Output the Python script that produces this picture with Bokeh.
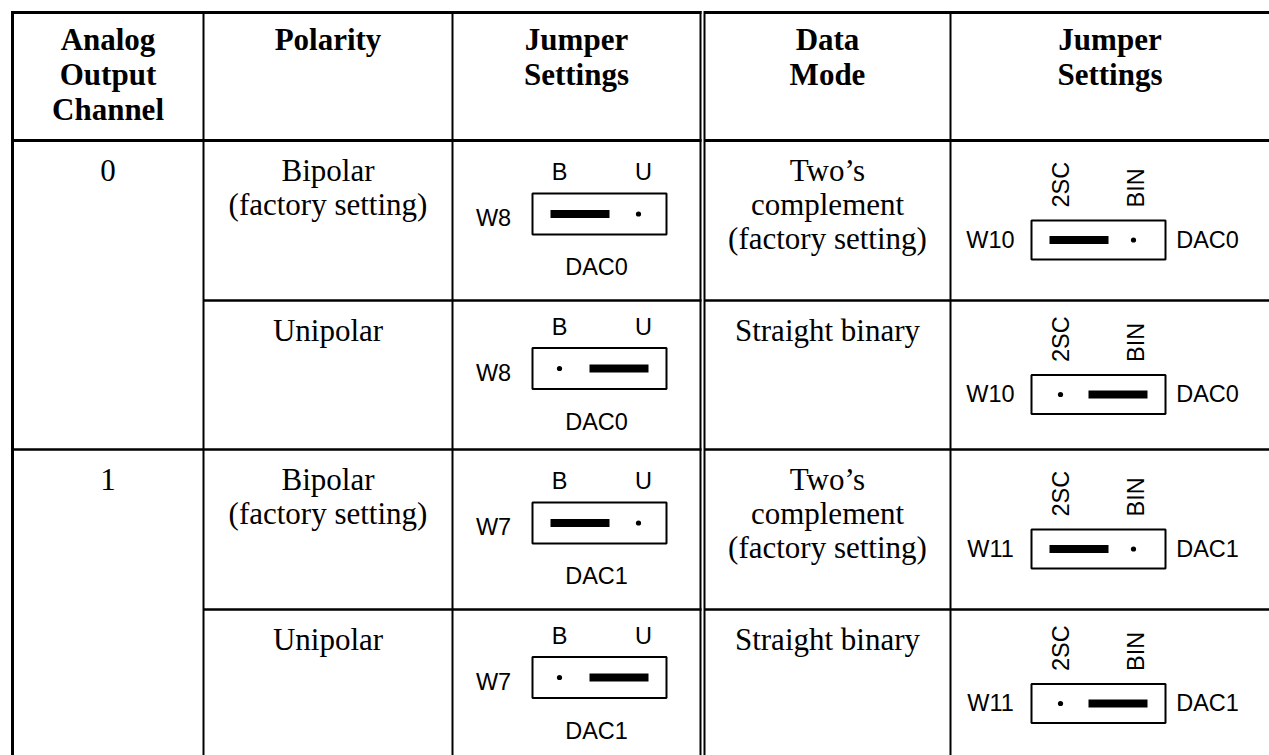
import math
from bokeh.plotting import figure
from bokeh.models import Range1d
from bokeh.core.properties import value
from bokeh.embed import file_html
from bokeh.resources import INLINE

# ---------------- data ----------------
headers = [["Analog", "Output", "Channel"], ["Polarity"], ["Jumper", "Settings"],
           ["Data", "Mode"], ["Jumper", "Settings"]]
channels = ["0", "1"]
polarity = [["Bipolar", "(factory setting)"], ["Unipolar"],
            ["Bipolar", "(factory setting)"], ["Unipolar"]]
pol_jumper = ["W8", "W8", "W7", "W7"]
pol_labels = ["B", "U"]
pol_setting = ["B", "U", "B", "U"]
dac_names = ["DAC0", "DAC0", "DAC1", "DAC1"]
data_mode = [["Two\u2019s", "complement", "(factory setting)"], ["Straight binary"],
             ["Two\u2019s", "complement", "(factory setting)"], ["Straight binary"]]
mode_jumper = ["W10", "W10", "W11", "W11"]
mode_labels = ["2SC", "BIN"]
mode_setting = ["2SC", "BIN", "2SC", "BIN"]

# ---------------- layout ----------------
col_x = [12, 203, 452, 700, 704, 950, 1290]
row_y = [12, 140, 300, 449, 609, 758]
SERIF = value("Liberation Serif")
SANS = value("Liberation Sans")
FS_SERIF_PX = 31
FS_SANS_PX = 23.5
LH = 34
SH_SERIF = 0.36 * FS_SERIF_PX   # baseline correction
SH_SANS = 0.36 * FS_SANS_PX

W, H = 1269, 755
p = figure(width=W, height=H, x_range=Range1d(0, W), y_range=Range1d(H, 0),
           output_backend="svg", toolbar_location=None, min_border=0,
           outline_line_color=None, background_fill_color="white",
           border_fill_color="white")
p.axis.visible = False
p.xgrid.visible = False
p.ygrid.visible = False

# ---------------- grid lines ----------------
x_end = 1290
for yy, lw in [(row_y[0], 3), (row_y[1], 3)]:
    p.segment(x0=[col_x[0], col_x[4]], x1=[col_x[3] + 1, x_end], y0=[yy, yy], y1=[yy, yy],
              line_color="black", line_width=lw)
for yy, x_start in [(row_y[2], col_x[1]), (row_y[3], col_x[0]), (row_y[4], col_x[1])]:
    p.segment(x0=[x_start, col_x[4]], x1=[col_x[3] + 1, x_end], y0=[yy, yy], y1=[yy, yy],
              line_color="black", line_width=2.5)
for i, xx in enumerate(col_x[:-1]):
    lw = 3 if i == 0 else 2
    p.segment(x0=[xx], x1=[xx], y0=[row_y[0] - 1.5], y1=[row_y[-1]],
              line_color="black", line_width=lw)

def txt(x, y, s, font, size, style="normal", align="center", baseline="alphabetic", angle=0.0):
    p.text(x=[x], y=[y], text=[s], text_font=font, text_font_size=size,
           text_font_style=style, text_align=align, text_baseline=baseline,
           text_color="black", angle=angle)

def serif(x, y, s, style="normal"):
    txt(x, y - SH_SERIF, s, SERIF, f"{FS_SERIF_PX}px", style)

def sans(x, y, s):
    txt(x, y - SH_SANS, s, SANS, f"{FS_SANS_PX}px")

cell_l = [col_x[0], col_x[1], col_x[2], col_x[4], col_x[5]]
cell_r = [col_x[1], col_x[2], col_x[3], col_x[5], 1269]
centers = [(a + b) / 2 for a, b in zip(cell_l, cell_r)]

# ---------------- header ----------------
for ci, lines in enumerate(headers):
    for li, s in enumerate(lines):
        serif(centers[ci], row_y[0] + 38 + li * 35, s, "bold")

# ---------------- body ----------------
for r in range(4):
    top, bot = row_y[r + 1], row_y[r + 2]
    c = (top + bot) / 2
    base = top + 41
    if r % 2 == 0:
        serif(centers[0], base, channels[r // 2])
    for li, s in enumerate(polarity[r]):
        serif(centers[1], base + li * LH, s)
    for li, s in enumerate(data_mode[r]):
        serif(centers[3], base + li * LH, s)

    # ---- polarity jumper (horizontal labels) ----
    L = cell_l[2] + 80
    bw = 134
    bt, bb = c - 27, c + 14
    mid = c - 6.5
    p.quad(left=[L], right=[L + bw], top=[bt], bottom=[bb], fill_color="white",
           line_color="black", line_width=2)
    lab_x = [L + 27, L + 111]
    for lx, s in zip(lab_x, pol_labels):
        sans(lx, bt - 13, s)
    if pol_setting[r] == pol_labels[0]:
        bar = (L + 18, L + 77); dot = L + 106
    else:
        bar = (L + 57, L + 116); dot = L + 27
    p.quad(left=[bar[0]], right=[bar[1]], top=[mid - 4], bottom=[mid + 4],
           fill_color="black", line_color=None)
    p.circle(x=[dot], y=[mid], radius=2.6, fill_color="black", line_color=None)
    sans(L - 39, c + 6, pol_jumper[r])
    sans(L + 64, c + 55, dac_names[r])

    # ---- data mode jumper (vertical labels) ----
    L2 = cell_l[4] + 81
    bt2, bb2 = c, c + 39
    mid2 = c + 19.5
    p.quad(left=[L2], right=[L2 + bw], top=[bt2], bottom=[bb2], fill_color="white",
           line_color="black", line_width=2)
    lab_x2 = [L2 + 29, L2 + 104]
    for lx, s in zip(lab_x2, mode_labels):
        txt(lx, bt2 - 13, s, SANS, f"{FS_SANS_PX}px", align="left", baseline="middle",
            angle=math.pi / 2)
    if mode_setting[r] == mode_labels[0]:
        bar = (L2 + 18, L2 + 77); dot = L2 + 102
    else:
        bar = (L2 + 57, L2 + 116); dot = L2 + 29
    p.quad(left=[bar[0]], right=[bar[1]], top=[mid2 - 4], bottom=[mid2 + 4],
           fill_color="black", line_color=None)
    p.circle(x=[dot], y=[mid2], radius=2.6, fill_color="black", line_color=None)
    sans(L2 - 41, mid2 + 8, mode_jumper[r])
    sans(L2 + bw + 42, mid2 + 8, dac_names[r])

open("out.html", "w").write(file_html(p, INLINE))
